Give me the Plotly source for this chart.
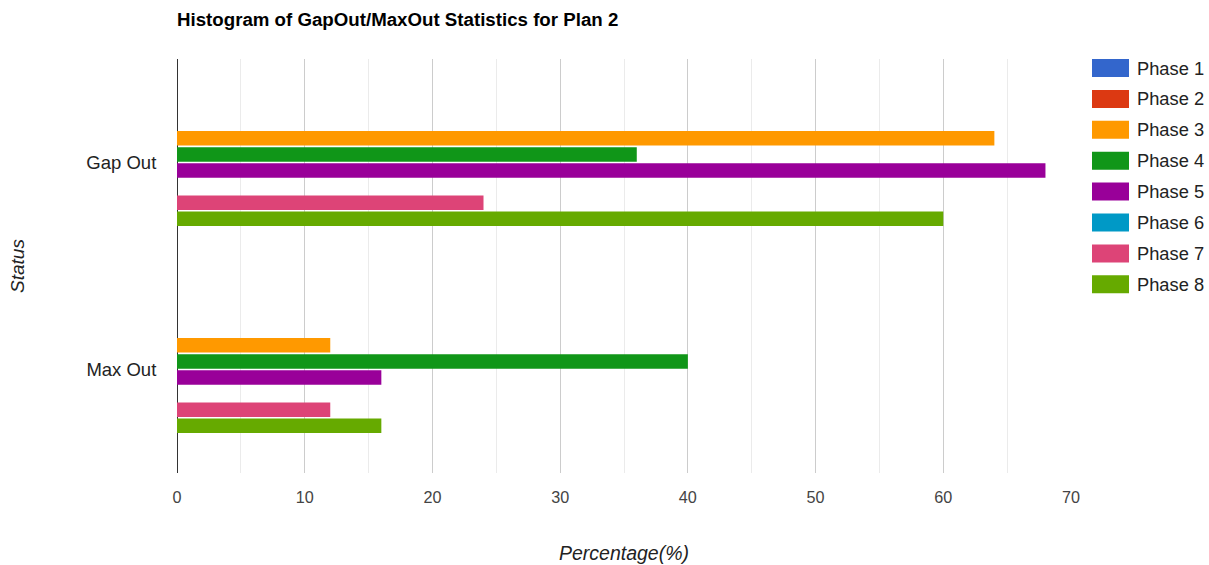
import plotly.graph_objects as go

# Status categories and per-phase percentages
statuses = ["Gap Out", "Max Out"]
phases = ["Phase 1", "Phase 2", "Phase 3", "Phase 4",
          "Phase 5", "Phase 6", "Phase 7", "Phase 8"]
gap_out = [0, 0, 64, 36, 68, 0, 24, 60]
max_out = [0, 0, 12, 40, 16, 0, 12, 16]
colors = ["#3366cc", "#dc3912", "#ff9900", "#109618",
          "#990099", "#0099c6", "#dd4477", "#66aa00"]

font = "Liberation Sans, Arial, sans-serif"

W, H = 1209, 565
L, R, T, B = 177, 138, 59, 92
plot_w, plot_h = W - L - R, H - T - B


def px_x(px):
    """Page pixel column -> paper x (plot-area based)."""
    return (px - L) / plot_w


def px_y(py):
    """Page pixel row -> paper y (plot-area based)."""
    return 1 - (py - T) / plot_h


fig = go.Figure()
for i, name in enumerate(phases):
    fig.add_trace(go.Bar(
        name=name,
        y=statuses,
        x=[gap_out[i], max_out[i]],
        orientation="h",
        marker=dict(color=colors[i], line=dict(width=0)),
        showlegend=False,
    ))

# Legend: large colour swatches with labels, stacked on the right
shapes, annotations = [], []
for i, (name, c) in enumerate(zip(phases, colors)):
    cy = 68 + i * 30.9
    shapes.append(dict(
        type="rect", xref="paper", yref="paper",
        x0=px_x(1092), x1=px_x(1129), y0=px_y(cy + 9), y1=px_y(cy - 9),
        fillcolor=c, line=dict(width=0), layer="above",
    ))
    annotations.append(dict(
        text=name, xref="paper", yref="paper",
        x=px_x(1135), y=px_y(cy), xanchor="left", yanchor="middle",
        showarrow=False, font=dict(family=font, size=18.3, color="#222222"),
    ))

fig.update_layout(
    width=W, height=H,
    margin=dict(l=L, r=R, t=T, b=B, autoexpand=False),
    paper_bgcolor="white", plot_bgcolor="white",
    barmode="group", bargap=0.378, bargroupgap=0.1,
    title=dict(
        text="<b>Histogram of GapOut/MaxOut Statistics for Plan 2</b>",
        x=L / W, xanchor="left", y=1 - 19 / H, yanchor="middle",
        font=dict(family=font, size=18.7, color="#000000"),
    ),
    font=dict(family=font, color="#444444"),
    showlegend=False,
    shapes=shapes,
    annotations=annotations,
    xaxis=dict(
        range=[0, 70], dtick=10, tick0=0, automargin=False,
        showgrid=True, gridcolor="#cccccc", gridwidth=1,
        minor=dict(dtick=5, showgrid=True, gridcolor="#ebebeb"),
        zeroline=True, zerolinecolor="#333333", zerolinewidth=1,
        ticks="outside", ticklen=10, tickcolor="rgba(0,0,0,0)",
        tickfont=dict(family=font, size=16.2, color="#444444"),
        title=dict(text="<i>Percentage(%)</i>", standoff=40,
                   font=dict(family=font, size=19.5, color="#222222")),
        fixedrange=True,
    ),
    yaxis=dict(
        autorange="reversed", showgrid=False, automargin=False,
        ticks="outside", ticklen=16, tickcolor="rgba(0,0,0,0)",
        tickfont=dict(family=font, size=18.5, color="#222222"),
        title=dict(text="<i>Status</i>", standoff=56,
                   font=dict(family=font, size=19, color="#222222")),
        fixedrange=True,
    ),
)

fig.write_html("out.html")
